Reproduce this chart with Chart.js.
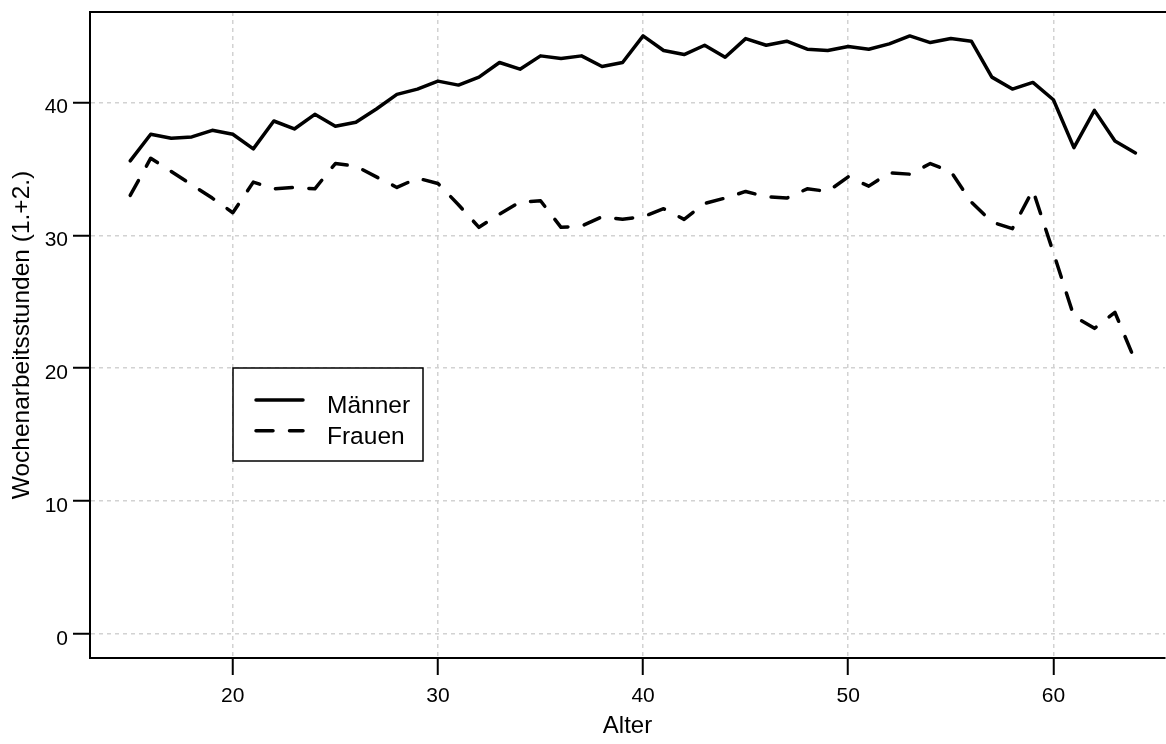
<!DOCTYPE html>
<html><head><meta charset="utf-8">
<script src="https://cdn.jsdelivr.net/npm/chart.js@4/dist/chart.umd.min.js"></script>
<style>html,body{margin:0;padding:0;background:#fff;overflow:hidden}canvas{display:block}</style>
</head><body>
<canvas id="c" width="1166" height="744"></canvas>
<script>
// ---- data ----
const ages = [15,16,17,18,19,20,21,22,23,24,25,26,27,28,29,30,31,32,33,34,35,36,37,38,39,
              40,41,42,43,44,45,46,47,48,49,50,51,52,53,54,55,56,57,58,59,60,61,62,63,64];
const maenner = [35.6,37.6,37.3,37.4,37.9,37.6,36.5,38.6,38.0,39.1,38.2,38.5,39.5,40.6,41.0,41.6,41.3,41.9,43.0,42.5,43.5,43.3,43.5,42.7,43.0,
                 45.0,43.9,43.6,44.3,43.4,44.8,44.3,44.6,44.0,43.9,44.2,44.0,44.4,45.0,44.5,44.8,44.6,41.9,41.0,41.5,40.2,36.6,39.4,37.1,36.2];
const frauen  = [33.0,35.8,34.8,33.8,32.8,31.7,34.0,33.5,33.6,33.5,35.4,35.2,34.4,33.6,34.3,33.9,32.3,30.6,31.6,32.5,32.6,30.6,30.7,31.4,31.2,
                 31.4,32.0,31.2,32.4,32.8,33.3,32.9,32.8,33.5,33.3,34.4,33.7,34.7,34.6,35.4,34.8,32.5,31.0,30.5,33.4,28.7,23.9,23.0,24.2,20.5];
const seriesLabels = ['Männer', 'Frauen'];
const xTicks = [20, 30, 40, 50, 60];
const yTicks = [0, 10, 20, 30, 40];
const xTitle = 'Alter';
const yTitle = 'Wochenarbeitsstunden (1.+2.)';

// ---- rendering ----
const FAMILY = '"Liberation Sans", Arial, Helvetica, sans-serif';
const toPoints = vals => ages.map((a, i) => ({x: a, y: vals[i]}));

const framePlugin = {
  id: 'frameTop',
  afterDraw(chart) {
    const {ctx, chartArea: a} = chart;
    ctx.save();
    ctx.strokeStyle = '#000';
    ctx.lineWidth = 2;
    ctx.beginPath();
    ctx.moveTo(a.left - 1, a.top);
    ctx.lineTo(a.right + 1, a.top);
    ctx.stroke();
    ctx.restore();
  }
};

const boxLegend = {
  id: 'boxLegend',
  afterDatasetsDraw(chart, args, o) {
    const {ctx, scales: {x, y}} = chart;
    const left = Math.round(x.getPixelForValue(o.atX));
    const top = Math.round(y.getPixelForValue(o.atY));
    ctx.save();
    ctx.fillStyle = '#fff';
    ctx.fillRect(left, top, o.width, o.height);
    ctx.lineWidth = 1.5;
    ctx.strokeStyle = '#000';
    ctx.strokeRect(left, top, o.width, o.height);
    chart.data.datasets.forEach((ds, i) => {
      const ly = top + o.firstRow + i * o.rowGap;
      ctx.beginPath();
      ctx.lineWidth = ds.borderWidth;
      ctx.lineCap = ds.borderCapStyle || 'butt';
      ctx.setLineDash(ds.borderDash || []);
      ctx.strokeStyle = ds.borderColor;
      ctx.moveTo(left + o.lineStart, ly);
      ctx.lineTo(left + o.lineEnd, ly);
      ctx.stroke();
      ctx.setLineDash([]);
      ctx.font = o.fontSize + 'px ' + FAMILY;
      ctx.fillStyle = '#000';
      ctx.textAlign = 'left';
      ctx.textBaseline = 'alphabetic';
      ctx.fillText(ds.label, left + o.textStart, ly + o.textDy);
    });
    ctx.restore();
  }
};

new Chart(document.getElementById('c'), {
  type: 'line',
  data: {
    datasets: [
      {label: seriesLabels[0], data: toPoints(maenner), borderColor: '#000', borderWidth: 3.5,
       borderCapStyle: 'round', borderJoinStyle: 'round', pointRadius: 0, tension: 0, fill: false},
      {label: seriesLabels[1], data: toPoints(frauen), borderColor: '#000', borderWidth: 3.5,
       borderDash: [17, 16.5], borderCapStyle: 'round', borderJoinStyle: 'round', pointRadius: 0, tension: 0, fill: false}
    ]
  },
  options: {
    responsive: false,
    animation: false,
    events: [],
    layout: {padding: {top: 12, right: 1, left: 0, bottom: 0}},
    plugins: {
      legend: {display: false},
      tooltip: {enabled: false},
      boxLegend: {atX: 20, atY: 20, width: 190, height: 93, firstRow: 32, rowGap: 30.7,
                  lineStart: 23, lineEnd: 70, textStart: 94, textDy: 13, fontSize: 24.5}
    },
    scales: {
      x: {
        type: 'linear', min: 13.04, max: 65.44,
        afterBuildTicks: s => { s.ticks = xTicks.map(v => ({value: v})); },
        afterFit: s => { s.height = 86; s.paddingLeft = 0; s.paddingRight = 0; },
        grid: {color: '#d2d2d2', lineWidth: 1.5, drawTicks: true, tickLength: 17,
               tickColor: '#000', tickWidth: 2, tickBorderDash: []},
        border: {display: true, color: '#000', width: 2, dash: [4, 4]},
        ticks: {font: {family: FAMILY, size: 21}, color: '#000', padding: 9,
                maxRotation: 0, autoSkip: false, callback: v => String(v)},
        title: {display: true, text: xTitle, color: '#000',
                font: {family: FAMILY, size: 24}, padding: {top: 0, bottom: 3}}
      },
      y: {
        type: 'linear', min: -1.8, max: 46.8,
        afterBuildTicks: s => { s.ticks = yTicks.map(v => ({value: v})); },
        afterFit: s => { s.width = 90; s.paddingTop = 0; s.paddingBottom = 0; },
        grid: {color: '#d2d2d2', lineWidth: 1.5, drawTicks: true, tickLength: 17,
               tickColor: '#000', tickWidth: 2, tickBorderDash: []},
        border: {display: true, color: '#000', width: 2, dash: [4, 4]},
        ticks: {font: {family: FAMILY, size: 21}, color: '#000', padding: 5, labelOffset: 5,
                autoSkip: false, callback: v => String(v)},
        title: {display: true, text: yTitle, color: '#000',
                font: {family: FAMILY, size: 24.5}, padding: {top: 8, bottom: 0}}
      }
    }
  },
  plugins: [framePlugin, boxLegend]
});
</script>
</body></html>
